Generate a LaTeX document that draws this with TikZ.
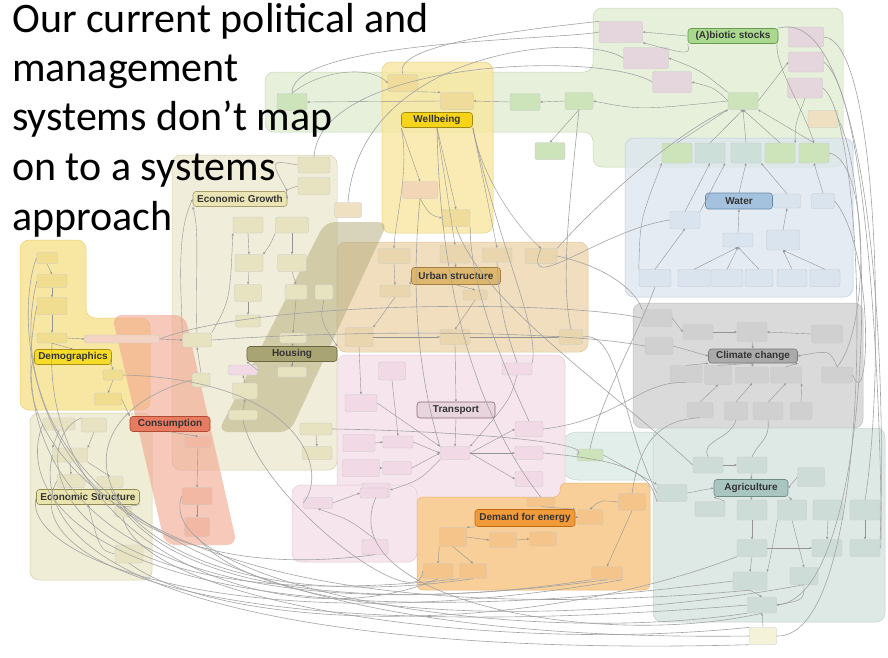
\documentclass[tikz,border=0pt]{standalone}
\usepackage{fontspec}
\setsansfont{Liberation Sans}
\newfontfamily\titlefont{Carlito}
\usetikzlibrary{arrows.meta}
\definecolor{abF}{HTML}{E6F0DB}\definecolor{abD}{HTML}{C5D9B3}
\definecolor{wbF}{HTML}{F8E6A0}\definecolor{wbD}{HTML}{E6CF7E}
\definecolor{waF}{HTML}{DCE5EF}\definecolor{waD}{HTML}{BCCDE0}
\definecolor{clF}{HTML}{DADADA}\definecolor{clD}{HTML}{C0C0C0}
\definecolor{agF}{HTML}{DEE8E5}\definecolor{agD}{HTML}{C2D3CF}
\definecolor{enF}{HTML}{F8CF98}\definecolor{enD}{HTML}{EDB56E}
\definecolor{trF}{HTML}{F6E5EC}\definecolor{trD}{HTML}{E6CBD8}
\definecolor{usF}{HTML}{F0DEBF}\definecolor{usD}{HTML}{DEC79E}
\definecolor{egF}{HTML}{F0EDDA}\definecolor{egD}{HTML}{D6D1B0}
\definecolor{hoF}{HTML}{B3AA78}
\definecolor{dmF}{HTML}{F8E49A}\definecolor{dmD}{HTML}{E8CF78}
\definecolor{coF}{HTML}{F2A58E}
\definecolor{esF}{HTML}{EFEDD6}\definecolor{esD}{HTML}{D5D0A8}
\definecolor{lgF}{HTML}{E2EEEA}
\definecolor{abB}{HTML}{E4D6DC}\definecolor{abG}{HTML}{CDE3BA}
\definecolor{tnB}{HTML}{EEE0C0}\definecolor{wbB}{HTML}{EFDC9A}
\definecolor{pcB}{HTML}{F2D6B6}\definecolor{waB}{HTML}{DAE4EE}
\definecolor{wgB}{HTML}{CCDFD9}\definecolor{clB}{HTML}{D0D0D0}
\definecolor{agB}{HTML}{CEDCD8}\definecolor{enB}{HTML}{F4C48A}
\definecolor{trB}{HTML}{F1DAE5}\definecolor{usB}{HTML}{EAD6AE}
\definecolor{egB}{HTML}{E7E3C0}\definecolor{dmB}{HTML}{F1DD90}
\definecolor{coB}{HTML}{F2B8A4}\definecolor{esB}{HTML}{E7E3C2}
\definecolor{ylB}{HTML}{F4F2D8}\definecolor{lpB}{HTML}{F3D4C4}
\begin{document}
\begin{tikzpicture}[x=1pt,y=-1pt,
  region/.style={rounded corners=9pt, line width=0.5pt},
  sb/.style={rounded corners=2pt, inner sep=0pt, minimum width=30pt, minimum height=17pt, line width=0.35pt, draw=black!22, fill=#1},
  lbl/.style={rounded corners=3pt, inner sep=0pt, line width=0.6pt, font=\sffamily\bfseries\fontsize{10}{11}\selectfont, text=black!80},
  cn/.style={draw=black!42, line width=0.4pt, -{Stealth[length=2.6pt,width=2.2pt]}},
  lg/.style={draw=black!36, line width=0.6pt},
  ttl/.style={font=\titlefont\fontsize{42}{50}\selectfont, anchor=base west, inner sep=0pt}]
\useasboundingbox (0,0) rectangle (888,657);
\fill[white] (0,0) rectangle (888,657);
% ---------- regions ----------
\draw[region, fill=abF, draw=abD] (265,72) -- (593,72) -- (593,8) -- (843,8) -- (843,167) -- (593,167) -- (593,132) -- (265,132) -- cycle;
\draw[region, fill=waF, draw=waD, fill opacity=0.75] (625,138) rectangle (853,297);
\draw[region, fill=wbF, draw=wbD, fill opacity=0.8] (382,62) rectangle (493,233);
\draw[region, fill=clF, draw=clD] (633,303) rectangle (863,428);
\draw[region, fill=lgF, draw=agD, rounded corners=20pt] (558,432) rectangle (670,480);
\draw[region, fill=agF, draw=agD] (653,428) rectangle (885,622);
\draw[region, fill=egF, draw=egD] (172,155) rectangle (337,470);
\draw[region, fill=usF, draw=usD] (337,242) rectangle (588,352);
\draw[region, fill=trF, draw=trD] (337,355) rectangle (565,500);
\draw[region, fill=trF, draw=trD] (292,485) rectangle (417,562);
\draw[region, fill=enF, draw=enD, rounded corners=6pt] (417,497) -- (560,497) -- (560,483) -- (650,483) -- (650,590) -- (417,590) -- cycle;
\draw[region, fill=esF, draw=esD] (30,413) rectangle (152,580);
\draw[region, fill=dmF, draw=dmD, fill opacity=0.9] (20,240) -- (86,240) -- (86,318) -- (150,318) -- (150,410) -- (20,410) -- cycle;
\fill[hoF, opacity=0.5, rounded corners=10pt] (325,222) -- (388,222) -- (290,432) -- (218,432) -- cycle;
\fill[coF, opacity=0.6, rounded corners=10pt] (112,315) -- (185,315) -- (237,545) -- (165,545) -- cycle;
% ---------- small boxes ----------
\node[sb=abB, minimum width=43pt, minimum height=21pt] (a1) at (621,32) {};
\node[sb=abB, minimum width=45pt, minimum height=21pt] (a2) at (646,58) {};
\node[sb=abB, minimum width=39pt, minimum height=21pt] (a3) at (672,82) {};
\node[sb=abB, minimum width=35pt, minimum height=20pt] (a4) at (806,37) {};
\node[sb=abB, minimum width=35pt, minimum height=20pt] (a5) at (806,62) {};
\node[sb=abB, minimum width=35pt, minimum height=20pt] (a6) at (805,88) {};
\node[sb=abG] (a7) at (743,101) {};
\node[sb=tnB] (a8) at (823,119) {};
\node[sb=abG, minimum width=28pt] (a9) at (579,101) {};
\node[sb=abG, minimum height=20pt] (w1) at (677,153) {};
\node[sb=wgB, minimum height=20pt] (w2) at (710,153) {};
\node[sb=wgB, minimum height=20pt] (w3) at (746,153) {};
\node[sb=abG, minimum height=20pt] (w4) at (780,153) {};
\node[sb=abG, minimum height=20pt] (w5) at (814,153) {};
\node[sb=abG] (b1) at (292,102) {};
\node[sb=wbB] (b2) at (403,83) {};
\node[sb=wbB, minimum width=33pt] (b3) at (457,101) {};
\node[sb=abG] (b4) at (525,102) {};
\node[sb=abG] (b5) at (550,151) {};
\node[sb=pcB, minimum width=35pt] (b6) at (420,190) {};
\node[sb=wbB, minimum width=28pt] (b7) at (456,218) {};
\node[sb=waB, minimum width=27pt, minimum height=14pt] (w6) at (787,201) {};
\node[sb=waB, minimum width=23pt, minimum height=15pt] (w7) at (823,201) {};
\node[sb=waB] (w8) at (685,220) {};
\node[sb=waB, minimum height=14pt] (w9) at (738,240) {};
\node[sb=waB, minimum width=33pt, minimum height=20pt] (w10) at (783,240) {};
\node[sb=waB, minimum width=32pt] (wr1) at (655,278) {};
\node[sb=waB, minimum width=32pt] (wr2) at (694,278) {};
\node[sb=waB, minimum width=32pt] (wr3) at (727,278) {};
\node[sb=waB, minimum width=28pt] (wr4) at (759,278) {};
\node[sb=waB, minimum width=30pt] (wr5) at (792,278) {};
\node[sb=waB, minimum width=30pt] (wr6) at (825,278) {};
\node[sb=clB] (c1) at (657,318) {};
\node[sb=clB, minimum width=28pt] (c2) at (659,346) {};
\node[sb=clB, minimum height=15pt] (c3) at (698,332) {};
\node[sb=clB, minimum height=19pt] (c4) at (752,332) {};
\node[sb=clB, minimum width=31pt, minimum height=18pt] (c5) at (827,334) {};
\node[sb=clB, minimum width=32pt] (c6) at (686,374) {};
\node[sb=clB, minimum width=27pt, minimum height=19pt] (c7) at (718,375) {};
\node[sb=clB, minimum width=33pt, minimum height=16pt] (c8) at (752,375) {};
\node[sb=clB, minimum width=31pt, minimum height=16pt] (c9) at (786,375) {};
\node[sb=clB, minimum width=31pt, minimum height=16pt] (c10) at (837,375) {};
\node[sb=clB, minimum width=26pt, minimum height=15pt] (c11) at (700,410) {};
\node[sb=clB, minimum width=23pt, minimum height=18pt] (c12) at (736,411) {};
\node[sb=clB, minimum height=17pt] (c13) at (768,411) {};
\node[sb=clB, minimum width=22pt, minimum height=17pt] (c14) at (801,411) {};
\node[sb=agB, minimum height=16pt] (g1) at (708,465) {};
\node[sb=agB, minimum height=16pt] (g2) at (752,465) {};
\node[sb=agB, minimum width=27pt, minimum height=19pt] (g3) at (811,477) {};
\node[sb=agB] (g4) at (672,493) {};
\node[sb=agB, minimum height=15pt] (g5) at (710,509) {};
\node[sb=agB, minimum height=20pt] (g6) at (752,510) {};
\node[sb=agB, minimum width=29pt, minimum height=20pt] (g7) at (792,510) {};
\node[sb=agB, minimum height=20pt] (g8) at (828,510) {};
\node[sb=agB, minimum height=20pt] (g9) at (865,510) {};
\node[sb=agB] (g10) at (752,548) {};
\node[sb=agB] (g11) at (827,548) {};
\node[sb=agB] (g12) at (865,548) {};
\node[sb=agB, minimum width=34pt, minimum height=18pt] (g13) at (750,581) {};
\node[sb=agB, minimum width=28pt] (g14) at (804,576) {};
\node[sb=agB, minimum width=29pt, minimum height=16pt] (g15) at (762,605) {};
\node[sb=ylB, minimum width=27pt] (g16) at (763,636) {};
\node[sb=abG, minimum width=26pt, minimum height=12pt] (g17) at (590,455) {};
\node[sb=enB, minimum width=28pt, minimum height=9pt] (e1) at (541,502) {};
\node[sb=enB, minimum width=26pt, minimum height=15pt] (e2) at (590,517) {};
\node[sb=enB, minimum width=27pt] (e3) at (632,502) {};
\node[sb=enB, minimum width=27pt, minimum height=19pt] (e4) at (453,537) {};
\node[sb=enB, minimum width=27pt, minimum height=15pt] (e5) at (503,540) {};
\node[sb=enB, minimum width=27pt, minimum height=14pt] (e6) at (543,539) {};
\node[sb=enB, minimum height=15pt] (e7) at (438,571) {};
\node[sb=enB, minimum width=27pt, minimum height=15pt] (e8) at (473,571) {};
\node[sb=enB, minimum width=31pt, minimum height=13pt] (e9) at (607,573) {};
\node[sb=trB, minimum width=27pt, minimum height=18pt] (t1) at (392,371) {};
\node[sb=trB, minimum height=12pt] (t2) at (517,369) {};
\node[sb=trB, minimum width=32pt] (t3) at (361,403) {};
\node[sb=trB, minimum width=32pt] (t4) at (359,443) {};
\node[sb=trB, minimum width=37pt] (t5) at (361,468) {};
\node[sb=trB, minimum height=12pt] (t6) at (398,442) {};
\node[sb=trB, minimum width=29pt, minimum height=13pt] (t7) at (397,468) {};
\node[sb=trB, minimum height=13pt] (t8) at (455,453) {};
\node[sb=trB, minimum width=28pt, minimum height=15pt] (t9) at (529,429) {};
\node[sb=trB, minimum width=28pt, minimum height=13pt] (t10) at (529,453) {};
\node[sb=trB, minimum width=28pt, minimum height=15pt] (t11) at (529,479) {};
\node[sb=trB, minimum width=28pt, minimum height=14pt] (t12) at (376,490) {};
\node[sb=trB, minimum width=29pt, minimum height=11pt] (p1) at (318,503) {};
\node[sb=trB, minimum width=28pt, minimum height=10pt] (p2) at (374,493) {};
\node[sb=trB, minimum width=26pt, minimum height=15pt] (p3) at (375,547) {};
\node[sb=usB, minimum width=32pt, minimum height=15pt] (u1) at (394,256) {};
\node[sb=usB, minimum height=18pt] (u2) at (455,254) {};
\node[sb=usB, minimum height=14pt] (u3) at (497,255) {};
\node[sb=usB, minimum width=32pt, minimum height=15pt] (u4) at (541,256) {};
\node[sb=usB, minimum height=12pt] (u5) at (395,291) {};
\node[sb=usB, minimum width=24pt, minimum height=10pt] (u6) at (475,295) {};
\node[sb=usB, minimum width=28pt, minimum height=19pt] (u7) at (359,337) {};
\node[sb=usB, minimum height=15pt] (u8) at (455,337) {};
\node[sb=usB, minimum width=23pt, minimum height=15pt] (u9) at (571,337) {};
\node[sb=egB, minimum height=16pt] (eg1) at (248,225) {};
\node[sb=egB, minimum width=33pt, minimum height=16pt] (eg2) at (292,225) {};
\node[sb=egB, minimum width=28pt] (eg3) at (249,263) {};
\node[sb=egB, minimum width=29pt] (eg4) at (292,263) {};
\node[sb=egB, minimum width=27pt] (eg5) at (248,293) {};
\node[sb=egB, minimum width=22pt, minimum height=15pt] (eg6) at (296,292) {};
\node[sb=egB, minimum width=18pt, minimum height=15pt] (eg7) at (324,292) {};
\node[sb=egB, minimum width=25pt, minimum height=12pt] (eg8) at (248,321) {};
\node[sb=egB, minimum width=29pt, minimum height=14pt] (eg9) at (197,340) {};
\node[sb=egB, minimum width=27pt, minimum height=10pt] (eg10) at (293,338) {};
\node[sb=egB, minimum width=18pt, minimum height=14pt] (eg11) at (201,380) {};
\node[sb=egB, minimum width=32pt, minimum height=12pt] (eg12) at (316,429) {};
\node[sb=egB, minimum width=30pt, minimum height=13pt] (eg13) at (317,453) {};
\node[sb=egB, minimum width=32pt, minimum height=16pt] (eg14a) at (314,165) {};
\node[sb=egB, minimum width=32pt, minimum height=17pt] (eg14b) at (314,186) {};
\node[sb=tnB, minimum width=27pt, minimum height=15pt] (eg15) at (348,210) {};
\node[sb=egB, minimum width=29pt, minimum height=10pt] (h1) at (292,372) {};
\node[sb=trB, minimum width=29pt, minimum height=10pt] (h2) at (243,370) {};
\node[sb=egB, minimum width=25pt, minimum height=16pt] (h3) at (245,391) {};
\node[sb=egB, minimum width=29pt, minimum height=10pt] (h4) at (243,415) {};
\node[sb=dmB, minimum width=21pt, minimum height=11pt] (d1) at (47,258) {};
\node[sb=dmB, minimum height=13pt] (d2) at (52,281) {};
\node[sb=dmB] (d3) at (52,306) {};
\node[sb=dmB, minimum height=10pt] (d4) at (52,338) {};
\node[sb=lpB, minimum width=75pt, minimum height=8pt] (d5) at (122,339) {};
\node[sb=dmB, minimum width=20pt, minimum height=10pt] (d6) at (113,375) {};
\node[sb=dmB, minimum width=27pt, minimum height=12pt] (d7) at (108,399) {};
\node[sb=esB, minimum width=32pt, minimum height=12pt] (s1) at (59,424) {};
\node[sb=esB, minimum width=25pt, minimum height=14pt] (s2) at (94,425) {};
\node[sb=esB, minimum width=35pt, minimum height=14pt] (s3) at (70,455) {};
\node[sb=esB, minimum width=28pt, minimum height=13pt] (s4) at (71,481) {};
\node[sb=esB, minimum width=26pt, minimum height=11pt] (s5) at (110,482) {};
\node[sb=esB, minimum width=17pt, minimum height=10pt] (s6) at (123,512) {};
\node[sb=esB, minimum width=28pt, minimum height=18pt] (s7) at (129,554) {};
\node[sb=coB, minimum width=27pt, minimum height=11pt] (cs1) at (198,442) {};
\node[sb=coB, minimum width=30pt, minimum height=17pt] (cs2) at (197,496) {};
\node[sb=coB, minimum width=25pt, minimum height=19pt] (cs3) at (197,527) {};
% ---------- labels ----------
\node[lbl, fill={rgb,255:red,169;green,217;blue,143}, draw={rgb,255:red,106;green,154;blue,80}, minimum width=90pt, minimum height=15pt] (abl) at (733,36) {(A)biotic stocks};
\node[lbl, fill={rgb,255:red,246;green,212;blue,28}, draw={rgb,255:red,160;green,138;blue,16}, minimum width=71pt, minimum height=15pt] (wbl) at (437,120) {Wellbeing};
\node[lbl, fill={rgb,255:red,164;green,194;blue,222}, draw={rgb,255:red,106;green,138;blue,170}, minimum width=67pt, minimum height=16pt] (wal) at (739,201) {Water};
\node[lbl, fill={rgb,255:red,170;green,170;blue,170}, draw={rgb,255:red,119;green,119;blue,119}, minimum width=89pt, minimum height=14pt] (cll) at (753,356) {Climate change};
\node[lbl, fill={rgb,255:red,169;green,197;blue,192}, draw={rgb,255:red,112;green,138;blue,134}, minimum width=74pt, minimum height=17pt] (agl) at (751,488) {Agriculture};
\node[lbl, fill={rgb,255:red,241;green,154;blue,58}, draw={rgb,255:red,192;green,106;blue,16}, minimum width=100pt, minimum height=17pt] (enl) at (525,518) {Demand for energy};
\node[lbl, fill={rgb,255:red,232;green,212;blue,220}, draw={rgb,255:red,138;green,106;blue,120}, minimum width=78pt, minimum height=16pt] (trl) at (456,410) {Transport};
\node[lbl, fill={rgb,255:red,221;green,183;blue,110}, draw={rgb,255:red,160;green,128;blue,64}, minimum width=89pt, minimum height=17pt] (usl) at (456,276) {Urban structure};
\node[lbl, fill={rgb,255:red,235;green,229;blue,181}, draw={rgb,255:red,168;green,160;blue,112}, minimum width=94pt, minimum height=15pt] (egl) at (240,199) {Economic Growth};
\node[lbl, fill={rgb,255:red,169;green,164;blue,115}, draw={rgb,255:red,106;green,102;blue,64}, minimum width=90pt, minimum height=15pt] (hol) at (292,354) {Housing};
\node[lbl, fill={rgb,255:red,246;green,220;blue,42}, draw={rgb,255:red,168;green,144;blue,16}, minimum width=77pt, minimum height=15pt] (dml) at (73,357) {Demographics};
\node[lbl, fill={rgb,255:red,231;green,123;blue,98}, draw={rgb,255:red,176;green,74;blue,48}, minimum width=80pt, minimum height=15pt] (col) at (170,424) {Consumption};
\node[lbl, fill={rgb,255:red,233;green,228;blue,173}, draw={rgb,255:red,144;green,138;blue,80}, minimum width=103pt, minimum height=15pt] (esl) at (88,497) {Economic Structure};
% ---------- long arcs ----------
\draw[lg] (s1.west) .. controls (5,520) and (160,655) .. (g13.west);
\draw[lg] (s4.west) .. controls (15,560) and (200,650) .. (g15.west);
\draw[lg] (d3.west) .. controls (6,460) and (80,650) .. (e9.south);
\draw[lg] (d2.west) .. controls (8,400) and (60,645) .. (g16.west);
\draw[lg] (eg11.west) .. controls (12,430) and (120,630) .. (e8.south);
\draw[lg] (s7.south) .. controls (220,630) and (520,640) .. (g10.south west);
\draw[lg] (cs3.south) .. controls (260,620) and (560,630) .. (g14.south);
\draw[lg] (t12.south) .. controls (330,600) and (600,650) .. (g15.south);
\draw[lg] (d4.south) .. controls (40,560) and (300,640) .. (e7.south);
\draw[lg] (s3.west) .. controls (20,600) and (350,656) .. (g16.south west);
\draw[lg] (d1.west) .. controls (10,330) and (30,600) .. (p3.south);
\draw[lg] (s5.south) .. controls (160,600) and (400,610) .. (e9.south west);
\draw[lg] (dml.west) .. controls (10,420) and (100,648) .. (g13.south);
\draw[lg] (esl.west) .. controls (20,560) and (250,645) .. (e9.south east);
\draw[lg] (s6.south) .. controls (140,600) and (480,655) .. (g16.north west);
\draw[lg] (cs2.west) .. controls (150,580) and (500,650) .. (g15.south west);
\draw[lg] (s2.north west) .. controls (25,440) and (40,625) .. (e8.south west);
\draw[lg] (a4.east) .. controls (880,40) and (885,380) .. (g9.north);
\draw[lg] (a5.east) .. controls (878,100) and (884,560) .. (g12.east);
\draw[lg] (a6.east) .. controls (870,120) and (880,640) .. (g16.east);
\draw[lg] (a8.east) .. controls (880,200) and (870,600) .. (g15.east);
\draw[lg] (w7.east) .. controls (875,250) and (870,420) .. (c10.east);
\draw[lg] (abl.north east) .. controls (860,5) and (888,300) .. (g12.north east);
\draw[lg] (w5.east) .. controls (870,160) and (870,330) .. (c10.north);
\draw[lg] (b1.north) .. controls (290,40) and (560,40) .. (a1.west);
\draw[lg] (eg15.north) .. controls (360,50) and (580,30) .. (a2.west);
\draw[lg] (eg14a.north) .. controls (320,60) and (600,50) .. (a3.west);
\draw[lg] (b2.north) .. controls (390,45) and (520,30) .. (a1.north west);
\draw[lg] (d5.east) .. controls (260,300) and (560,300) .. (c1.west);
\draw[lg] (eg9.east) .. controls (350,330) and (560,330) .. (c2.west);
\draw[lg] (u9.east) .. controls (620,330) and (620,420) .. (g4.west);
\draw[lg] (t9.east) .. controls (620,420) and (640,380) .. (c6.south);
\draw[lg] (e3.north) .. controls (640,440) and (660,420) .. (c11.south);
\draw[lg] (b7.south) .. controls (480,300) and (600,380) .. (g1.west);
\draw[lg] (t10.east) .. controls (620,460) and (650,470) .. (g4.south west);
\draw[lg] (w8.west) .. controls (600,230) and (520,300) .. (u4.north);
\draw[lg] (b6.south) .. controls (410,300) and (420,380) .. (t8.north west);
\draw[lg] (b7.south east) .. controls (470,300) and (520,400) .. (t9.north);
\draw[lg] (u3.south) .. controls (500,320) and (510,340) .. (t2.north);
\draw[lg] (a7.south west) .. controls (680,130) and (600,200) .. (u4.north east);
\draw[lg] (a9.south) .. controls (570,200) and (560,280) .. (u9.north);
\draw[lg] (wr1.south) .. controls (640,330) and (600,400) .. (g17.north);
\draw[lg] (c12.south) .. controls (730,440) and (700,440) .. (g1.north);
\draw[lg] (c13.south) .. controls (770,440) and (760,440) .. (g2.north);
\draw[lg] (eg12.east) .. controls (420,430) and (600,440) .. (g17.west);
\draw[lg] (h4.south) .. controls (260,500) and (420,620) .. (e7.west);
\draw[lg] (u4.east) .. controls (620,270) and (640,300) .. (c1.north west);
\draw[lg] (d6.east) .. controls (300,380) and (330,470) .. (p1.west);
\draw[lg] (wbl.south) .. controls (440,300) and (480,420) .. (e1.north);
\draw[lg] (wbl.south east) .. controls (500,250) and (540,330) .. (t2.north east);
% ---------- short connectors ----------
\draw[cn] (abl.west) -- (a1.east);
\draw[cn] (a7.north west) .. controls (700,70) .. (a2.east);
\draw[cn] (a7.west) .. controls (715,88) .. (a3.east);
\draw[cn] (abl.south west) .. controls (690,55) .. (a1.south east);
\draw[cn] (w1.north) -- (a7.south west);
\draw[cn] (w2.north) -- (a7.south);
\draw[cn] (w3.north) -- (a7.south);
\draw[cn] (w4.north) -- (a7.south);
\draw[cn] (w5.north) -- (a7.south east);
\draw[cn] (a7.east) -- (a5.west);
\draw[cn] (a6.south) .. controls (795,125) .. (w4.north east);
\draw[cn] (abl.east) .. controls (770,60) and (800,100) .. (w5.north);
\draw[cn] (a7.west) .. controls (640,110) .. (a9.east);
\draw[cn] (a9.west) -- (b4.east);
\draw[cn] (b4.west) -- (b3.east);
\draw[cn] (b3.west) -- (b1.east);
\draw[cn] (b2.south east) -- (b3.north west);
\draw[cn] (b1.north) .. controls (320,70) and (370,65) .. (b2.west);
\draw[cn] (a9.south) -- (b5.north);
\draw[cn] (wbl.south) -- (b7.north);
\draw[cn] (wbl.south west) -- (b6.north);
\draw[cn] (wbl.south west) .. controls (410,170) and (395,220) .. (u1.north);
\draw[cn] (wbl.south) -- (u2.north);
\draw[cn] (wbl.south east) -- (u3.north);
\draw[cn] (wbl.south east) .. controls (480,170) and (510,220) .. (u4.north);
\draw[cn] (b6.south) .. controls (430,215) .. (b7.west);
\draw[cn] (wal.north) -- (w3.south);
\draw[cn] (w6.north) -- (w3.south east);
\draw[cn] (w7.north) -- (w5.south);
\draw[cn] (w8.north) -- (w2.south);
\draw[cn] (w8.north east) -- (w2.south east);
\draw[cn] (w9.north) -- (wal.south);
\draw[cn] (w10.north) -- (w6.south);
\draw[cn] (wr1.north) -- (w8.south);
\draw[cn] (wr2.north) -- (w9.south);
\draw[cn] (wr3.north) -- (w9.south);
\draw[cn] (wr4.north) -- (w9.south);
\draw[cn] (wr5.north) -- (w10.south);
\draw[cn] (wr6.north) -- (w10.south);
\draw[cn] (wr1.north west) .. controls (640,220) .. (w1.south west);
\draw[cn] (c1.east) -- (c3.west);
\draw[cn] (c3.east) -- (c4.west);
\draw[cn] (c5.west) -- (c4.east);
\draw[cn] (c2.east) -- (cll.west);
\draw[cn] (c6.north) -- (cll.south west);
\draw[cn] (c7.north) -- (cll.south);
\draw[cn] (c8.north) -- (cll.south);
\draw[cn] (c9.north) -- (cll.south east);
\draw[cn] (c11.north) -- (c7.south);
\draw[cn] (c12.north) -- (c8.south);
\draw[cn] (c13.north) -- (c9.south);
\draw[cn] (c14.north) -- (c9.south east);
\draw[cn] (c4.south) -- (cll.north);
\draw[cn] (c10.north) .. controls (830,350) .. (cll.east);
\draw[cn] (g1.east) -- (g2.west);
\draw[cn] (g2.south) -- (agl.north);
\draw[cn] (g4.east) -- (agl.west);
\draw[cn] (g5.north east) -- (agl.south west);
\draw[cn] (agl.south) -- (g6.north);
\draw[cn] (agl.south east) -- (g7.north);
\draw[cn] (g3.west) -- (agl.east);
\draw[cn] (g6.south) -- (g10.north);
\draw[cn] (g10.south) -- (g13.north);
\draw[cn] (g13.south) -- (g15.north);
\draw[cn] (g16.north) -- (g15.south);
\draw[cn] (g8.south) -- (g11.north);
\draw[cn] (g9.south) -- (g12.north);
\draw[cn] (g10.east) -- (g11.west);
\draw[cn] (g7.south) -- (g14.north);
\draw[cn] (g14.south) .. controls (804,600) .. (g15.east);
\draw[cn] (g7.south west) .. controls (770,560) .. (g13.north east);
\draw[cn] (g17.east) -- (g4.north west);
\draw[cn] (e4.east) -- (e5.west);
\draw[cn] (e5.east) -- (e6.west);
\draw[cn] (e4.south west) -- (e7.north);
\draw[cn] (e4.south) -- (e8.north);
\draw[cn] (e2.west) -- (enl.east);
\draw[cn] (e1.south) -- (enl.north east);
\draw[cn] (e3.south) -- (e9.north);
\draw[cn] (enl.south west) -- (e4.north east);
\draw[cn] (e3.west) .. controls (600,500) .. (e2.north);
\draw[cn] (t4.east) -- (t6.west);
\draw[cn] (t5.east) -- (t7.west);
\draw[cn] (t6.east) -- (t8.west);
\draw[cn] (t7.east) -- (t8.west);
\draw[cn] (t3.east) -- (t8.north west);
\draw[cn] (t1.south) -- (t6.north);
\draw[cn] (trl.south) -- (t8.north);
\draw[cn] (t8.east) -- (t9.west);
\draw[cn] (t8.east) -- (t10.west);
\draw[cn] (t8.east) -- (t11.west);
\draw[cn] (t2.south) .. controls (510,400) .. (t8.north east);
\draw[cn] (t8.south west) .. controls (420,480) .. (t12.east);
\draw[cn] (p1.east) -- (p2.west);
\draw[cn] (p3.north) .. controls (350,520) .. (p1.south);
\draw[cn] (u1.south) -- (u5.north);
\draw[cn] (u2.south) -- (usl.north);
\draw[cn] (usl.south) -- (u6.north);
\draw[cn] (u5.south) -- (u7.north east);
\draw[cn] (u7.east) -- (u8.west);
\draw[cn] (u8.east) -- (u9.west);
\draw[cn] (u6.south) -- (u8.north);
\draw[cn] (usl.west) -- (u5.north east);
\draw[cn] (u7.south) -- (t3.north);
\draw[cn] (u8.south) -- (trl.north);
\draw[cn] (eg1.south) -- (eg3.north);
\draw[cn] (eg2.south) -- (eg4.north);
\draw[cn] (eg3.south) -- (eg5.north);
\draw[cn] (eg4.south) -- (eg6.north);
\draw[cn] (eg5.south) -- (eg8.north);
\draw[cn] (eg2.south west) .. controls (270,245) .. (eg3.north east);
\draw[cn] (eg9.north) .. controls (195,280) and (200,230) .. (egl.south west);
\draw[cn] (eg9.north west) .. controls (180,270) and (178,230) .. (egl.west);
\draw[cn] (eg9.north east) .. controls (230,300) .. (eg1.south west);
\draw[cn] (eg14a.west) .. controls (270,160) .. (egl.north east);
\draw[cn] (eg14b.west) .. controls (285,190) .. (egl.east);
\draw[cn] (eg10.south) -- (hol.north);
\draw[cn] (hol.south) -- (h1.north);
\draw[cn] (h2.east) -- (hol.south west);
\draw[cn] (h3.north) -- (h2.south);
\draw[cn] (h4.north) -- (h3.south);
\draw[cn] (eg12.south) -- (eg13.north);
\draw[cn] (eg6.south) -- (eg10.north);
\draw[cn] (eg11.north) -- (eg9.south);
\draw[cn] (eg7.south) .. controls (320,320) .. (hol.north east);
\draw[cn] (d1.south) -- (d2.north);
\draw[cn] (d2.south) -- (d3.north);
\draw[cn] (d3.south) -- (d4.north);
\draw[cn] (d4.east) -- (d5.west);
\draw[cn] (d4.south) -- (dml.north);
\draw[cn] (dml.east) .. controls (110,360) .. (d6.north);
\draw[cn] (d6.south) -- (d7.north);
\draw[cn] (d5.east) -- (eg9.west);
\draw[cn] (s1.south) -- (s3.north west);
\draw[cn] (s2.south) -- (s3.north east);
\draw[cn] (s3.south) -- (s4.north);
\draw[cn] (s3.south east) -- (s5.north);
\draw[cn] (esl.south east) -- (s6.north);
\draw[cn] (s7.west) .. controls (100,550) .. (esl.south);
\draw[cn] (col.south) -- (cs1.north);
\draw[cn] (cs1.south) -- (cs2.north);
\draw[cn] (cs2.south) -- (cs3.north);
\draw[cn] (d7.east) -- (col.north west);
% ---------- title ----------
\node[ttl] (tt1) at (12,32) {Our current political and};
\node[ttl] (tt2) at (12,81) {management};
\node[ttl] (tt3) at (12,130) {systems don’t map};
\node[ttl] (tt4) at (12,180) {on to a systems};
\node[ttl] (tt5) at (12,230) {approach};
\end{tikzpicture}
\end{document}
